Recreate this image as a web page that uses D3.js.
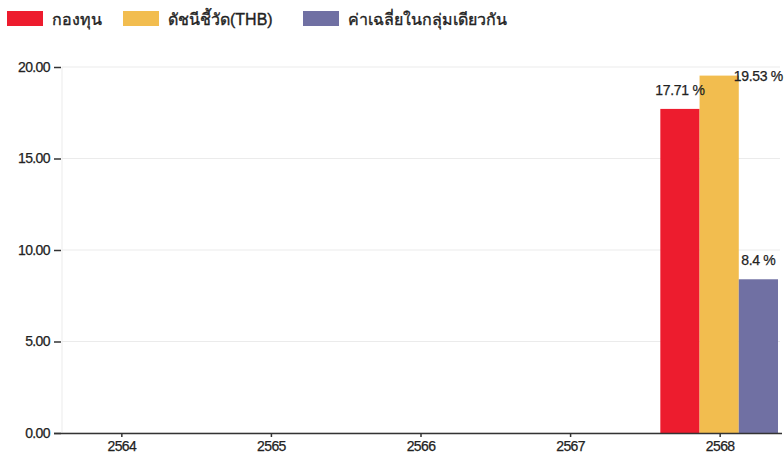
<!DOCTYPE html>
<html>
<head>
<meta charset="utf-8">
<script src="https://cdn.jsdelivr.net/npm/d3@7"></script>
<style>
  html, body { margin: 0; padding: 0; background: #fff; }
  svg { display: block; font-family: Arial, "Liberation Sans", "Noto Sans", "DejaVu Sans", sans-serif; }
</style>
</head>
<body>
<svg id="chart" width="784" height="454"></svg>
<script>
// ---- data ----
const categories = ["2564", "2565", "2566", "2567", "2568"];
const seriesNames = ["กองทุน", "ดัชนีชี้วัด(THB)", "ค่าเฉลี่ยในกลุ่มเดียวกัน"];
const fundValues = [null, null, null, null, 17.71];
const benchmarkValues = [null, null, null, null, 19.53];
const peerValues = [null, null, null, null, 8.4];
const labelTexts = ["17.71 %", "19.53 %", "8.4 %"];
const yTicks = [0, 5, 10, 15, 20];

const colors = ["#ed1c2e", "#f2bd4f", "#7070a3"];
const seriesValues = [fundValues, benchmarkValues, peerValues];

const svg = d3.select("#chart");
const margin = { left: 62, right: 4, top: 67, bottom: 21 };
const W = 784, H = 454;

const x = d3.scaleBand().domain(categories).range([margin.left, W - margin.right]).paddingInner(0.2).paddingOuter(0);
const y = d3.scaleLinear().domain([0, 20]).range([H - margin.bottom, margin.top]);
const xSub = d3.scaleBand().domain(seriesNames).range([0, x.bandwidth() - 2]);

// grid
svg.append("g").selectAll("line").data(yTicks).join("line")
  .attr("x1", margin.left).attr("x2", W - margin.right)
  .attr("y1", d => y(d)).attr("y2", d => y(d))
  .attr("stroke", "#ebebeb").attr("stroke-width", 1);
svg.append("line")
  .attr("x1", margin.left).attr("x2", margin.left)
  .attr("y1", y(20)).attr("y2", y(0))
  .attr("stroke", "#ebebeb");

// bars
const barData = [];
seriesNames.forEach((s, si) => {
  categories.forEach((c, ci) => {
    const v = seriesValues[si][ci];
    if (v != null) barData.push({ s, si, c, v, label: labelTexts[si] });
  });
});
svg.append("g").selectAll("rect").data(barData).join("rect")
  .attr("x", d => x(d.c) + xSub(d.s))
  .attr("y", d => y(d.v))
  .attr("width", xSub.bandwidth())
  .attr("height", d => y(0) - y(d.v))
  .attr("fill", d => colors[d.si]);

// labels
svg.append("g").selectAll("text").data(barData).join("text")
  .attr("x", d => {
    const cx = x(d.c) + xSub(d.s) + xSub.bandwidth() / 2;
    return (y(d.v) - 14 < margin.top + 14) ? cx + xSub.bandwidth() : cx;
  })
  .attr("y", d => Math.max(y(d.v) - 14, margin.top + 14))
  .attr("text-anchor", "middle")
  .attr("font-size", 14)
  .attr("letter-spacing", -0.3)
  .attr("fill", "#222")
  .attr("stroke", "#222").attr("stroke-width", 0.25)
  .text(d => d.label);

// y axis
const yAxis = svg.append("g").attr("transform", `translate(${margin.left - 1},0)`)
  .call(d3.axisLeft(y).tickValues(yTicks).tickFormat(d3.format(".2f")).tickSize(7).tickPadding(4));
yAxis.select(".domain").remove();
yAxis.selectAll(".tick line").attr("stroke", "#333").attr("stroke-width", 1.5);
yAxis.selectAll("text").attr("font-size", 14).attr("fill", "#222").attr("font-family", null)
  .attr("letter-spacing", -0.6).attr("stroke", "#222").attr("stroke-width", 0.25);

// x axis
const xAxis = svg.append("g").attr("transform", `translate(0,${y(0)})`)
  .call(d3.axisBottom(x).tickSize(4).tickSizeOuter(0).tickPadding(4));
xAxis.select(".domain").attr("stroke", "#333").attr("stroke-width", 1.5)
  .attr("d", `M${margin.left - 8},0.5H${W - 2}`);
xAxis.selectAll(".tick line").attr("stroke", "#333").attr("stroke-width", 1.5);
xAxis.selectAll("text").attr("font-size", 14).attr("fill", "#222").attr("font-family", null)
  .attr("letter-spacing", -0.6).attr("stroke", "#222").attr("stroke-width", 0.25);

// legend
const legendX = [7, 123, 303];
const lg = svg.append("g").selectAll("g").data(seriesNames).join("g")
  .attr("transform", (d, i) => `translate(${legendX[i]},11)`);
lg.append("rect").attr("width", 36).attr("height", 15).attr("fill", (d, i) => colors[i]);
lg.append("text").attr("x", 45).attr("y", 14).attr("font-size", 16).attr("fill", "#222")
  .attr("stroke", "#222").attr("stroke-width", 0.35)
  .text(d => d);
</script>
</body>
</html>
